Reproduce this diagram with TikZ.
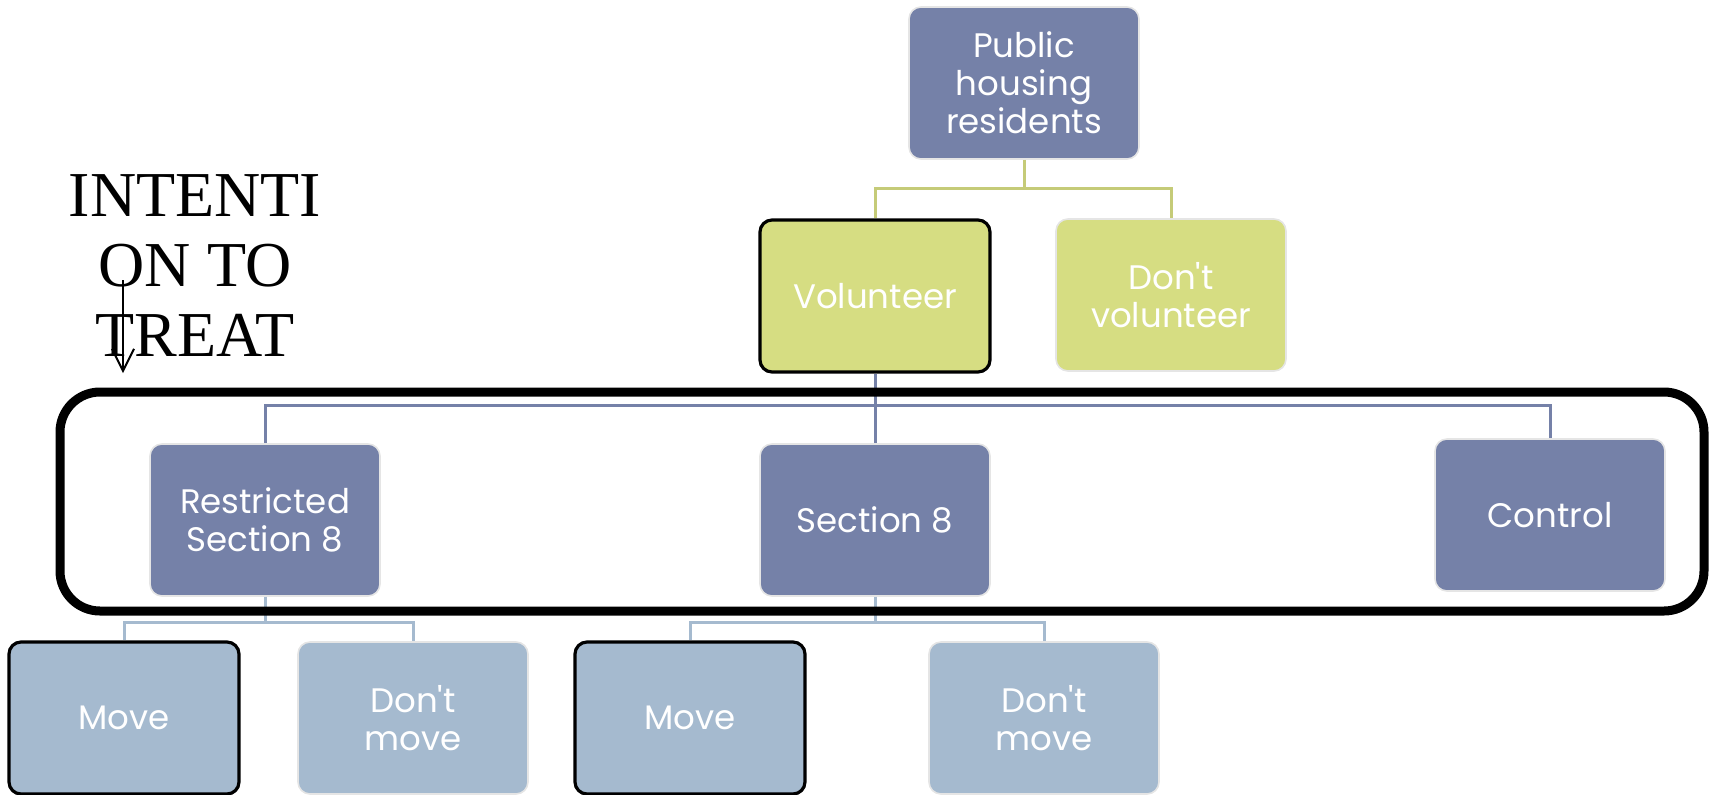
\documentclass[tikz,border=0pt]{standalone}
\usepackage{fontspec}
\setmainfont{Liberation Serif}
\newfontfamily\boxfont{Poppins}
\definecolor{slate}{HTML}{7581A8}
\definecolor{lime}{HTML}{D6DD82}
\definecolor{sky}{HTML}{A5BACF}
\usetikzlibrary{arrows.meta}
\tikzset{
	orgbox/.style={rounded corners=6pt, draw=black!10, line width=0.8pt,
		minimum width=115pt, minimum height=76pt, inner sep=0pt,
		align=center, text=white, font=\boxfont\fontsize{17}{19}\selectfont},
	picked/.style={draw=black, line width=1.6pt},
	link/.style={line width=1.5pt},
}

\begin{document}
\begin{tikzpicture}[x=0.5pt, y=-0.5pt]
	\useasboundingbox (0,0) rectangle (1714,794);
	\coordinate (gbar) at (0,188);
	\coordinate (bbar) at (0,405);
	\coordinate (lbar) at (0,622);
	\node[orgbox, fill=slate] (pub) at (1024,83) {Public\\housing\\residents};
	\node[orgbox, fill=lime, picked] (vol) at (875,296) {Volunteer};
	\node[orgbox, fill=lime] (dvol) at (1171,295) {Don\textquotesingle t\\volunteer};
	\node[orgbox, fill=slate] (rs8) at (265,520) {Restricted\\Section 8};
	\node[orgbox, fill=slate] (s8) at (875,520) {Section 8};
	\node[orgbox, fill=slate] (ctrl) at (1550,515) {Control};
	\node[orgbox, fill=sky, picked] (mv1) at (124,718) {Move};
	\node[orgbox, fill=sky] (dmv1) at (413,718) {Don\textquotesingle t\\move};
	\node[orgbox, fill=sky, picked] (mv2) at (690,718) {Move};
	\node[orgbox, fill=sky] (dmv2) at (1044,718) {Don\textquotesingle t\\move};
	%links
	\draw[link, lime!92!black] (pub.south) -- (pub.south |- gbar) -| (vol.north);
	\draw[link, lime!92!black] (pub.south |- gbar) -| (dvol.north);
	\foreach \kid in {rs8, s8, ctrl}
	\draw[link, slate] (vol.south) -- (vol.south |- bbar) -| (\kid.north);
	\foreach \kid in {mv1, dmv1}
	\draw[link, sky] (rs8.south) -- (rs8.south |- lbar) -| (\kid.north);
	\foreach \kid in {mv2, dmv2}
	\draw[link, sky] (s8.south) -- (s8.south |- lbar) -| (\kid.north);
	%frame
	\draw[line width=4.5pt, rounded corners=20pt] (60,392) rectangle (1704,611);
	\node[font=\fontsize{32}{35}\selectfont, align=center, inner sep=0pt] (itt) at (195,266) {INTENTI\\ON TO\\TREAT};
	\coordinate (itt-top) at (123,280);
	\coordinate (itt-tip) at (123,373);
	\draw[line width=1pt, -{Straight Barb[length=11pt, width=11pt]}] (itt-top) -- (itt-tip);
\end{tikzpicture}
\end{document}
